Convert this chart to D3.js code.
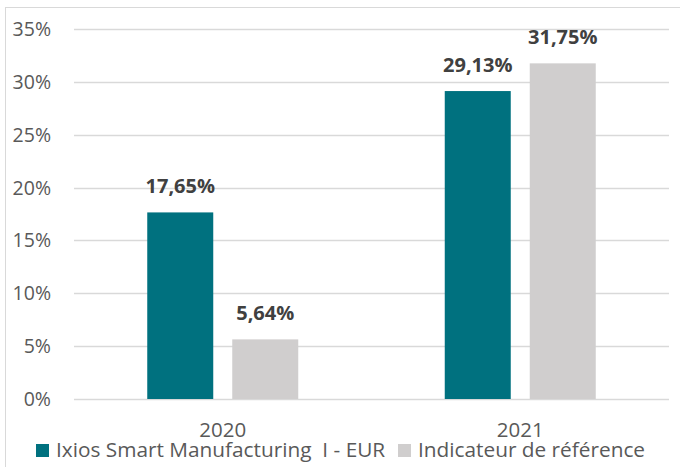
<!DOCTYPE html>
<html>
<head>
<meta charset="utf-8">
<script src="https://cdn.jsdelivr.net/npm/d3@7"></script>
<style>
  body { margin: 0; background: #fff; }
  svg text { font-family: "Open Sans", "Noto Sans", sans-serif; }
</style>
</head>
<body>
<svg id="chart" width="680" height="467"></svg>
<script>
// data
const years = ["2020", "2021"];
const seriesNames = ["Ixios Smart Manufacturing  I - EUR", "Indicateur de référence"];
const fundValues = [17.65, 29.13];
const benchValues = [5.64, 31.75];
const yTicks = [0, 5, 10, 15, 20, 25, 30, 35];
const colors = ["#00717F", "#D0CECE"];

const rows = years.map((y, i) => ({ year: y, vals: [fundValues[i], benchValues[i]] }));

const svg = d3.select("#chart");

// outer frame
svg.append("rect")
  .attr("x", 5.5).attr("y", 7.5)
  .attr("width", 680).attr("height", 470)
  .attr("fill", "none").attr("stroke", "#D9D9D9").attr("stroke-width", 1);

const plot = { left: 74, right: 669, top: 29, bottom: 399 };

const x = d3.scaleBand()
  .domain(years)
  .range([plot.left, plot.right]);

// two bars of 66px with a 19px gap
const xInner = d3.scaleBand()
  .domain([0, 1])
  .range([0, 151])
  .paddingInner(19 / 85);

const y = d3.scaleLinear()
  .domain([0, 35])
  .range([plot.bottom, plot.top]);

// gridlines
svg.append("g")
  .selectAll("line")
  .data(yTicks)
  .join("line")
    .attr("x1", plot.left).attr("x2", plot.right)
    .attr("y1", d => Math.round(y(d)) + 0.5)
    .attr("y2", d => Math.round(y(d)) + 0.5)
    .attr("stroke", "#D9D9D9").attr("stroke-width", 1.3);

// y axis labels
svg.append("g")
  .selectAll("text")
  .data(yTicks)
  .join("text")
    .attr("x", 51)
    .attr("y", d => y(d))
    .attr("dy", "0.36em")
    .attr("text-anchor", "end")
    .attr("fill", "#595959")
    .style("font-size", "19.5px")
    .text(d => d + "%");

// bars
const groups = svg.append("g")
  .selectAll("g")
  .data(rows)
  .join("g")
    .attr("transform", d => `translate(${x(d.year) + x.bandwidth() / 2 - 75.5},0)`);

groups.selectAll("rect")
  .data(d => d.vals)
  .join("rect")
    .attr("x", (d, i) => xInner(i))
    .attr("y", d => y(d))
    .attr("width", xInner.bandwidth())
    .attr("height", d => y(0) - y(d))
    .attr("fill", (d, i) => colors[i]);

groups.selectAll("text")
  .data(d => d.vals)
  .join("text")
    .attr("x", (d, i) => xInner(i) + xInner.bandwidth() / 2)
    .attr("y", d => y(d) - 19)
    .attr("text-anchor", "middle")
    .attr("fill", "#404040")
    .style("font-size", "20px")
    .style("font-weight", "bold")
    .text(d => d3.format(".2f")(d).replace(".", ",") + "%");

// x axis labels (sit tight on the legend, as in the original)
svg.append("g")
  .selectAll("text")
  .data(years)
  .join("text")
    .attr("x", d => x(d) + x.bandwidth() / 2)
    .attr("y", 437)
    .attr("text-anchor", "middle")
    .attr("fill", "#595959")
    .style("font-size", "20.5px")
    .text(d => d);

// legend
const legendX = [36, 398];
const legend = svg.append("g")
  .selectAll("g")
  .data(seriesNames)
  .join("g")
    .attr("transform", (d, i) => `translate(${legendX[i]},444)`);

legend.append("rect")
  .attr("width", 13).attr("height", 13)
  .attr("fill", (d, i) => colors[i]);

legend.append("text")
  .attr("x", 20)
  .attr("y", 13)
  .attr("fill", "#595959")
  .style("font-size", "20.8px")
  .style("white-space", "pre")
  .text(d => d);
</script>
</body>
</html>
